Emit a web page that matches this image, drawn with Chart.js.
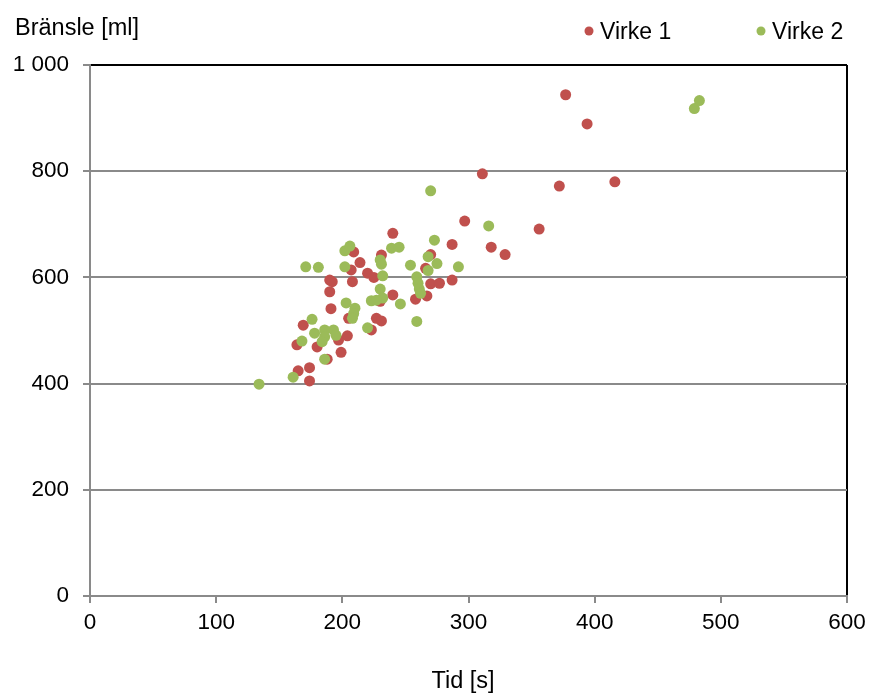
<!DOCTYPE html>
<html>
<head>
<meta charset="utf-8">
<script src="https://cdn.jsdelivr.net/npm/chart.js@4/dist/chart.umd.min.js"></script>
<style>
html,body{margin:0;padding:0;background:#fff;}
#wrap{width:869px;height:693px;position:relative;}
</style>
</head>
<body>
<div id="wrap"><canvas id="c" width="869" height="693"></canvas></div>
<script>
// Data
const seriesNames = ['Virke 1', 'Virke 2'];
const virke1X = [377,394,311,372,416,297,356,287,318,329,240,209,231,214,207,220,225,190,192,208,190,240,230,191,205,227,231,169,223,204,164,180,197,188,199,165,174,174,270,266,270,277,287,267,258];
const virke1Y = [944,889,795,772,780,706,691,662,657,643,683,648,642,628,614,608,600,595,592,592,573,567,555,541,523,523,518,510,501,490,473,469,482,446,459,424,430,405,643,617,588,589,595,565,559];
const virke2X = [134,161,168,171,181,176,178,186,193,195,186,184,186,202,206,202,203,210,209,208,223,220,230,231,232,230,232,227,239,245,246,254,259,260,261,262,259,268,268,275,273,292,270,316,479,483];
const virke2Y = [399,412,480,620,619,521,495,501,501,491,488,479,446,650,659,620,552,542,532,523,556,505,633,625,603,578,561,557,655,657,550,623,601,589,578,570,517,639,613,626,670,620,763,697,918,933];
const xTicks = [0,100,200,300,400,500,600];
const yTicks = [0,200,400,600,800,1000];
const xTitle = 'Tid [s]';
const yTitle = 'Bränsle [ml]';

const RED = '#C0504D', GREEN = '#9BBB59', GRID = '#8a8a8a';
const FONT = '"Liberation Sans", Arial, sans-serif';

function pts(xs, ys){ return xs.map((x,i)=>({x:x, y:ys[i]})); }

const overlay = {
  id:'overlay',
  afterDraw(chart){
    const ctx = chart.ctx;
    ctx.save();
    ctx.fillStyle = '#000';
    ctx.font = '23.5px ' + FONT;
    ctx.textBaseline = 'alphabetic';
    ctx.textAlign = 'left';
    ctx.fillText(yTitle, 15, 35);
    ctx.textAlign = 'center';
    ctx.fillText(xTitle, 463, 688);
    // legend
    const items = [[seriesNames[0], RED, 589], [seriesNames[1], GREEN, 761]];
    ctx.textAlign = 'left';
    ctx.font = '23px ' + FONT;
    items.forEach(([t,c,x])=>{
      ctx.beginPath();
      ctx.fillStyle = c;
      ctx.arc(x, 31, 4.5, 0, Math.PI*2);
      ctx.fill();
      ctx.fillStyle = '#000';
      ctx.fillText(t, x+11, 39);
    });
    ctx.restore();
  }
};

new Chart(document.getElementById('c'), {
  type:'scatter',
  data:{
    datasets:[
      {label:seriesNames[0], data:pts(virke1X, virke1Y), backgroundColor:RED, borderColor:RED, borderWidth:0, pointRadius:5.5, pointHoverRadius:5.5, order:1},
      {label:seriesNames[1], data:pts(virke2X, virke2Y), backgroundColor:GREEN, borderColor:GREEN, borderWidth:0, pointRadius:5.5, pointHoverRadius:5.5, order:0}
    ]
  },
  options:{
    responsive:false,
    animation:false,
    devicePixelRatio:1,
    layout:{padding:{top:65, right:22, left:0, bottom:0}},
    plugins:{legend:{display:false}, tooltip:{enabled:false}, title:{display:false}},
    scales:{
      x:{
        type:'linear', min:xTicks[0], max:xTicks[xTicks.length-1],
        afterBuildTicks(s){ s.ticks = xTicks.map(v=>({value:v})); },
        afterFit(s){ s.height = 97; s.paddingLeft = 0; s.paddingRight = 0; },
        ticks:{font:{family:FONT, size:22.5}, color:'#000', padding:6, maxRotation:0},
        grid:{
          color:(c)=> (c.tick && c.tick.value===600) ? '#000' : 'rgba(0,0,0,0)',
          lineWidth:2, tickColor:GRID, tickLength:7, tickWidth:2
        },
        border:{display:true, color:GRID, width:2}
      },
      y:{
        type:'linear', min:yTicks[0], max:yTicks[yTicks.length-1],
        afterBuildTicks(s){ s.ticks = yTicks.map(v=>({value:v})); },
        afterFit(s){ s.width = 90; s.paddingTop = 0; s.paddingBottom = 0; },
        ticks:{font:{family:FONT, size:22.5}, color:'#000', padding:14,
          callback:(v)=> v>=1000 ? (Math.floor(v/1000)+' '+String(v%1000).padStart(3,'0')) : String(v)},
        grid:{
          color:(c)=> (c.tick && c.tick.value===1000) ? '#000' : GRID,
          lineWidth:2, tickColor:GRID, tickLength:7, tickWidth:2
        },
        border:{display:true, color:GRID, width:2}
      }
    }
  },
  plugins:[overlay]
});
</script>
</body>
</html>
